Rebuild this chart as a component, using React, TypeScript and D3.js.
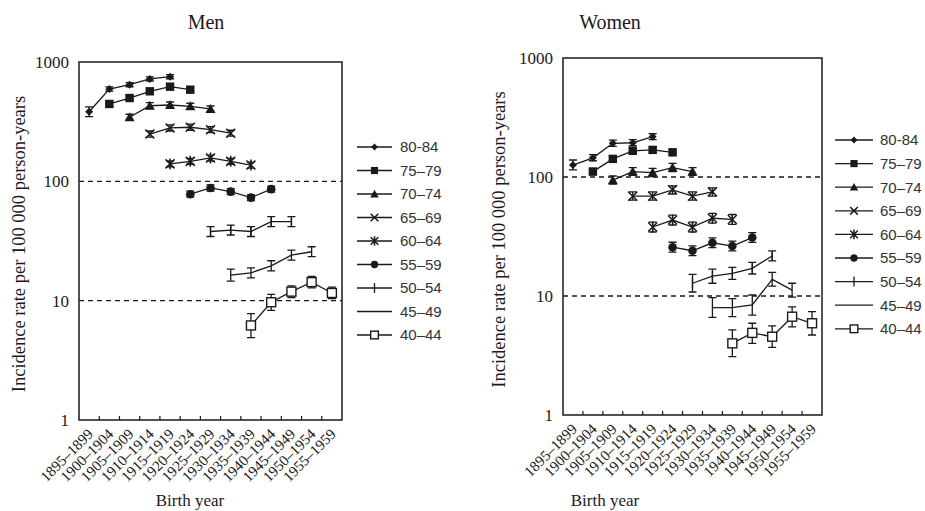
import { useEffect, useRef } from 'react';
import * as d3 from 'd3';

// birth cohorts on the x axis
const cohorts = [
  '1895–1899', '1900–1904', '1905–1909', '1910–1914', '1915–1919', '1920–1924', '1925–1929',
  '1930–1934', '1935–1939', '1940–1944', '1945–1949', '1950–1954', '1955–1959',
];

// age groups (legend order) and the cohort each series starts at
const ageGroups = ['80-84', '75–79', '70–74', '65–69', '60–64', '55–59', '50–54', '45–49', '40–44'];
const firstCohort = [0, 1, 2, 3, 4, 5, 6, 7, 8];
const markers = ['diamond', 'square', 'triangle', 'x', 'asterisk', 'circle', 'tick', 'none', 'open'];

const yTicks = [1, 10, 100, 1000];
const dashedAt = [10, 100];

// Men: rates per 100 000 person-years with 95% CI
const menRates = [
  [383, 594, 645, 721, 753],
  [445, 499, 568, 621, 586],
  [344, 430, 436, 425, 404],
  [249, 280, 284, 271, 253],
  [140, 147, 157, 147, 137],
  [78, 88, 82, 73, 86],
  [38, 39, 38, 46, 46],
  [16.4, 17.1, 19.6, 24.1, 25.7],
  [6.2, 9.7, 11.9, 14.3, 11.6],
];
const menLow = [
  [348, 571, 620, 693, 724],
  [424, 475, 541, 591, 558],
  [325, 406, 411, 401, 381],
  [235, 264, 268, 256, 239],
  [132, 139, 148, 139, 129],
  [73.6, 83, 77.4, 68.9, 81.1],
  [34.5, 35.5, 34.5, 41.8, 41.8],
  [14.6, 15.5, 17.8, 21.9, 23.4],
  [4.9, 8.3, 10.6, 12.8, 10.4],
];
const menHigh = [
  [421, 618, 671, 750, 783],
  [467, 524, 596, 652, 615],
  [365, 456, 462, 451, 428],
  [264, 297, 301, 287, 268],
  [148, 156, 166, 156, 145],
  [82.7, 93.3, 86.9, 77.4, 91.2],
  [41.8, 42.9, 41.8, 50.6, 50.6],
  [18.4, 18.8, 21.6, 26.5, 28.3],
  [7.8, 11.3, 13.3, 16.0, 13.0],
];

// Women
const womenRates = [
  [126, 145, 192, 194, 218],
  [111, 142, 166, 169, 161],
  [94, 111, 109, 120, 111],
  [69, 69, 78, 69, 75],
  [38, 43.5, 38, 45, 44],
  [25.7, 24, 28, 26.3, 31],
  [12.8, 14.7, 15.5, 17.1, 21.7],
  [8.0, 8.0, 8.4, 13.8, 11.2],
  [4.0, 4.9, 4.55, 6.7, 5.9],
];
const womenLow = [
  [115, 137, 181, 183, 206],
  [105, 134, 157, 159, 152],
  [87, 103, 101, 111, 103],
  [64, 64, 72, 64, 69],
  [34.5, 39.5, 34.5, 40.9, 40],
  [23.4, 21.8, 25.5, 23.9, 28.2],
  [10.8, 12.8, 13.8, 15.3, 19.7],
  [6.6, 6.7, 6.9, 12.1, 9.8],
  [3.1, 4.0, 3.7, 5.5, 4.7],
];
const womenHigh = [
  [139, 154, 204, 206, 231],
  [118, 151, 176, 179, 171],
  [102, 120, 118, 130, 120],
  [75, 75, 84, 75, 81],
  [41.8, 47.9, 41.8, 49.5, 48.4],
  [28.3, 26.4, 30.8, 28.9, 34.1],
  [15.2, 16.8, 17.4, 19.2, 23.9],
  [9.7, 9.5, 10.2, 15.8, 12.8],
  [5.2, 5.9, 5.6, 8.1, 7.4],
];

const INK = '#1a1a1a';
const SERIF = '"Liberation Serif", "DejaVu Serif", serif';
const SANS = '"Liberation Sans", Arial, sans-serif';

const panels = [
  {
    title: 'Men', rates: menRates, low: menLow, high: menHigh,
    left: 79, right: 342, top: 62, bottom: 420,
    titleX: 206, ylabelX: 25, xlabelX: 190,
    legX0: 357, legX1: 392, legTextX: 400, legY0: 147, legStep: 23.5,
  },
  {
    title: 'Women', rates: womenRates, low: womenLow, high: womenHigh,
    left: 563, right: 822, top: 58, bottom: 415,
    titleX: 610, ylabelX: 505, xlabelX: 605,
    legX0: 835, legX1: 873, legTextX: 880, legY0: 140, legStep: 23.6,
  },
];

function drawMarker(g, type, x, y, legend = false) {
  const s = legend ? 0.85 : 1;
  if (type === 'diamond') {
    const r = 4 * s;
    g.append('path').attr('d', `M${x},${y - r}L${x + r},${y}L${x},${y + r}L${x - r},${y}Z`).attr('fill', INK);
  } else if (type === 'square') {
    const r = 4.2 * s;
    g.append('rect').attr('x', x - r).attr('y', y - r).attr('width', 2 * r).attr('height', 2 * r).attr('fill', INK);
  } else if (type === 'triangle') {
    const r = 5 * s;
    g.append('path').attr('d', `M${x},${y - r}L${x + r},${y + r * 0.8}L${x - r},${y + r * 0.8}Z`).attr('fill', INK);
  } else if (type === 'x' || type === 'asterisk') {
    const r = 4.5 * s;
    let d = `M${x - r},${y - r}L${x + r},${y + r}M${x - r},${y + r}L${x + r},${y - r}`;
    if (type === 'asterisk') d += `M${x},${y - r - 1}L${x},${y + r + 1}`;
    g.append('path').attr('d', d).attr('stroke', INK).attr('stroke-width', 1.5).attr('fill', 'none');
  } else if (type === 'circle') {
    g.append('circle').attr('cx', x).attr('cy', y).attr('r', 4.3 * s).attr('fill', INK);
  } else if (type === 'tick') {
    g.append('path').attr('d', `M${x},${y - 5}L${x},${y + 5}`).attr('stroke', INK).attr('stroke-width', 1.3);
  } else if (type === 'open') {
    const r = 4.5 * s;
    g.append('rect').attr('x', x - r).attr('y', y - r).attr('width', 2 * r).attr('height', 2 * r)
      .attr('fill', 'white').attr('stroke', INK).attr('stroke-width', 1.4);
  }
}

function drawPanel(svg, p) {
  const g = svg.append('g');
  const x = d3.scaleBand().domain(cohorts).range([p.left, p.right]).paddingInner(0).paddingOuter(0);
  const y = d3.scaleLog().domain([1, 1000]).range([p.bottom, p.top]);
  const cx = (i) => x(cohorts[i]) + x.bandwidth() / 2;

  // title
  g.append('text').attr('x', p.titleX).attr('y', 29).attr('text-anchor', 'middle')
    .style('font-family', SERIF).style('font-size', '20px').attr('fill', INK).text(p.title);

  // dashed reference lines
  dashedAt.forEach((v) => {
    g.append('line').attr('x1', p.left).attr('x2', p.right).attr('y1', y(v)).attr('y2', y(v))
      .attr('stroke', INK).attr('stroke-width', 1.4).attr('stroke-dasharray', '5,4');
  });

  // frame
  g.append('rect').attr('x', p.left).attr('y', p.top).attr('width', p.right - p.left).attr('height', p.bottom - p.top)
    .attr('fill', 'none').attr('stroke', INK).attr('stroke-width', 1.5);

  // x ticks at cohort boundaries, pointing inward
  cohorts.slice(1).forEach((c) => {
    const xx = x(c);
    g.append('line').attr('x1', xx).attr('x2', xx).attr('y1', p.bottom).attr('y2', p.bottom - 4)
      .attr('stroke', INK).attr('stroke-width', 1.2);
  });

  // x tick labels
  cohorts.forEach((c, i) => {
    g.append('text').attr('transform', `translate(${cx(i) + 5},${p.bottom + 15}) rotate(-45)`)
      .attr('text-anchor', 'end').style('font-family', SERIF).style('font-size', '15px')
      .attr('fill', INK).text(c);
  });

  // y tick labels
  yTicks.forEach((v) => {
    g.append('text').attr('x', p.left - 10).attr('y', y(v)).attr('dy', '0.35em').attr('text-anchor', 'end')
      .style('font-family', SERIF).style('font-size', '17px').attr('fill', INK).text(v);
  });

  // axis titles
  g.append('text').attr('x', p.xlabelX).attr('y', 506).attr('text-anchor', 'middle')
    .style('font-family', SERIF).style('font-size', '17px').attr('fill', INK).text('Birth year');
  g.append('text').attr('transform', `translate(${p.ylabelX},${(p.top + p.bottom) / 2 + 3}) rotate(-90)`)
    .attr('text-anchor', 'middle').style('font-family', SERIF).style('font-size', '18.5px')
    .attr('fill', INK).text('Incidence rate per 100 000 person-years');

  // series
  const line = d3.line().x((d) => cx(d.i)).y((d) => y(d.v));
  p.rates.forEach((vals, s) => {
    const pts = vals.map((v, k) => ({ i: firstCohort[s] + k, v, lo: p.low[s][k], hi: p.high[s][k] }));
    const sg = g.append('g');
    sg.append('path').attr('d', line(pts)).attr('fill', 'none').attr('stroke', INK).attr('stroke-width', 1.3);
    pts.forEach((d) => {
      const xx = cx(d.i);
      const y0 = y(d.lo);
      const y1 = y(d.hi);
      sg.append('path').attr('d', `M${xx},${y0}L${xx},${y1}M${xx - 4},${y0}L${xx + 4},${y0}M${xx - 4},${y1}L${xx + 4},${y1}`)
        .attr('stroke', INK).attr('stroke-width', 1.3).attr('fill', 'none');
      drawMarker(sg, markers[s], xx, y(d.v));
    });
  });

  // legend
  ageGroups.forEach((a, s) => {
    const ly = p.legY0 + s * p.legStep;
    g.append('line').attr('x1', p.legX0).attr('x2', p.legX1).attr('y1', ly).attr('y2', ly)
      .attr('stroke', INK).attr('stroke-width', 1.3);
    drawMarker(g, markers[s], (p.legX0 + p.legX1) / 2, ly, true);
    g.append('text').attr('x', p.legTextX).attr('y', ly).attr('dy', '0.36em')
      .style('font-family', SANS).style('font-size', '15px').attr('fill', '#333').text(a);
  });
}

export default function App() {
  const svgRef = useRef(null);

  useEffect(() => {
    const svg = d3.select(svgRef.current);
    svg.selectAll('*').remove();
    svg.append('rect').attr('width', 925).attr('height', 511).attr('fill', 'white');
    panels.forEach((p) => drawPanel(svg, p));
  }, []);

  return (
    <svg
      ref={svgRef}
      width={925}
      height={511}
      viewBox="0 0 925 511"
      style={{ position: 'absolute', left: 0, top: 0, display: 'block' }}
    />
  );
}
